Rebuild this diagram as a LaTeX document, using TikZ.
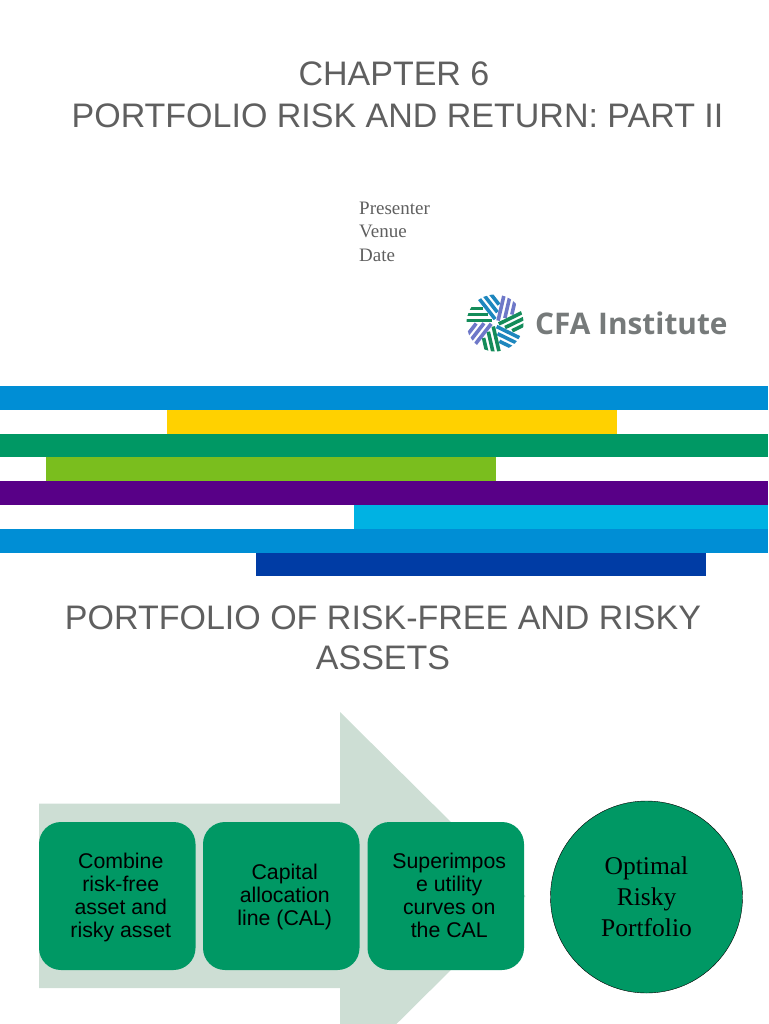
\documentclass[tikz,border=0pt]{standalone}
\usepackage{fontspec}
\setmainfont{Liberation Sans}
\newfontfamily\serifface{Liberation Serif}
\newfontfamily\logoface{Open Sans}
\usepackage{xcolor}
\definecolor{titlegray}{RGB}{95,95,95}
\definecolor{logogray}{RGB}{118,122,122}
\definecolor{barblue}{RGB}{0,142,213}
\definecolor{baryellow}{RGB}{255,209,0}
\definecolor{bargreen}{RGB}{0,152,100}
\definecolor{barlime}{RGB}{122,190,30}
\definecolor{barpurple}{RGB}{88,0,135}
\definecolor{barcyan}{RGB}{0,178,227}
\definecolor{barnavy}{RGB}{0,60,165}
\definecolor{arrowpale}{RGB}{205,222,212}
\definecolor{logoteal}{RGB}{30,135,190}
\definecolor{logoviolet}{RGB}{110,120,200}
\definecolor{logogreen}{RGB}{20,140,90}
\newcommand{\steptext}[1]{\hspace*{7pt}\raisebox{-2pt}[\height][\depth]{\begin{tabular}{@{}c@{}}#1\end{tabular}}}
\tikzset{
  heading/.style={text=titlegray,font=\fontsize{34}{41.5}\selectfont,align=center},
  stepbox/.style={fill=bargreen,rounded corners=22pt,minimum width=156.5pt,minimum height=148pt,
    font=\fontsize{21.3}{23}\selectfont,inner sep=0pt},
}
\begin{document}
\begin{tikzpicture}[x=1pt,y=-1pt]
    \useasboundingbox (0,0) rectangle (768,1024);
    % title block
    \node[heading] (chapter) at (394,95) {CHAPTER 6\\\hspace*{7pt}PORTFOLIO RISK AND RETURN: PART II};
    \node[text=titlegray,font=\serifface\fontsize{19}{23.2}\selectfont,align=left,anchor=north west,inner sep=0pt]
      (presenter) at (359,202) {Presenter\\Venue\\Date};
    % logo
    \coordinate (star) at (495,323);
    \begin{scope}
      \clip (star) circle (28.5);
      \foreach \a/\c in {-128/logoteal,-77/logoviolet,-26/logogreen,26/logoteal,77/logogreen,128/logoviolet,180/logogreen}
        \foreach \r/\s in {2.5/3,8.5/7,14.5/12}
          \draw[\c,line width=3.6pt] ([shift={(\a:\s)}]star) ++(\a+90:\r) -- ++(\a:32);
    \end{scope}
    \node[text=logogray,font=\logoface\bfseries\fontsize{29.8}{30}\selectfont,anchor=west,inner sep=0pt] (logotext) at (535,323) {CFA Institute};
    % bars
    \foreach \xa/\xb/\ya/\yb/\c in {0/768/386/409.5/barblue,166.5/616.5/409.5/433.5/baryellow,0/768/433.5/457/bargreen,
      45.5/495.5/457/481/barlime,0/768/481/504.5/barpurple,354/768/504.5/528.5/barcyan,0/768/528.5/552.5/barblue,256/706/552.5/576/barnavy}
      \fill[\c] (\xa,\ya) rectangle (\xb,\yb);
    % second slide
    \node[heading,font=\fontsize{34}{40}\selectfont] (slidetitle) at (383,638) {PORTFOLIO OF RISK-FREE AND RISKY\\ASSETS};
    \fill[arrowpale] (39,803.5) -- (340,803.5) -- (340,712) -- (525.5,896) -- (340,1080) -- (340,988) -- (39,988) -- cycle;
    \node[stepbox] (combine) at (117.25,896) {\steptext{Combine\\risk-free\\asset and\\risky asset}};
    \node[stepbox] (capital) at (281.25,896) {\steptext{Capital\\allocation\\line (CAL)}};
    \node[stepbox] (superimpose) at (445.75,896) {\steptext{Superimpos\\e utility\\curves on\\the CAL}};
    \node[circle,draw=black,fill=bargreen,minimum width=192pt,inner sep=0pt,align=center,
      font=\serifface\fontsize{25.5}{31}\selectfont] (optimal) at (646.5,897) {Optimal\\Risky\\Portfolio};
\end{tikzpicture}
\end{document}
